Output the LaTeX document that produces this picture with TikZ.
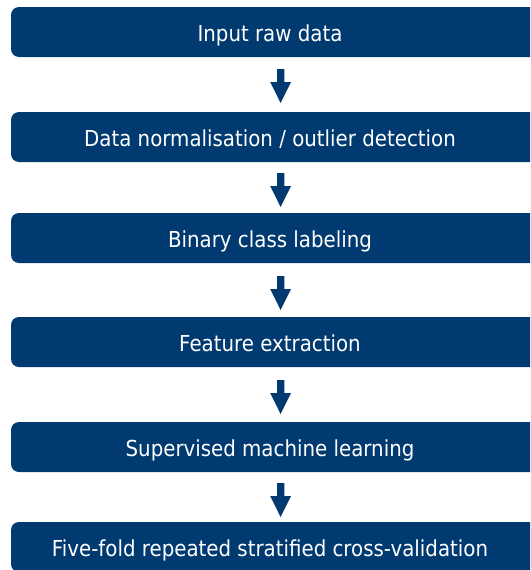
\documentclass[tikz,border=0pt]{standalone}
\usepackage{fontspec}
\setmainfont{DejaVu Sans}[FakeStretch=0.9]
\definecolor{navy}{RGB}{0,58,112}
\tikzset{
  stagebox/.style={fill=navy, rounded corners=8pt},
  stagetext/.style={text=white, font=\fontsize{22}{26}\selectfont, anchor=base, inner sep=0pt},
  downarrow/.style={fill=navy}
}
\begin{document}
\begin{tikzpicture}[x=1pt,y=-1pt]
\useasboundingbox (0,0) rectangle (530,570);
\clip (0,0) rectangle (530,570);
% stage boxes
\foreach \i/\top/\txt in {1/7/{Input raw data},
  2/112/{Data normalisation / outlier detection},
  3/213/{Binary class labeling},
  4/317/{Feature extraction},
  5/422/{Supervised machine learning},
  6/522/{Five-fold repeated stratified cross-validation}}{
  \fill[stagebox] (11,\top) rectangle (545,\top+50);
  \node[stagetext] (s\i) at (270,\top+34) {\txt};
}
% arrows between stages
\foreach \top in {57,161,264,368,471}{
  \fill[downarrow] (277,\top+12) -- (284.3,\top+12) -- (284.3,\top+25) -- (291,\top+25)
    -- (280.6,\top+46) -- (270.2,\top+25) -- (277,\top+25) -- cycle;
}
\end{tikzpicture}
\end{document}
